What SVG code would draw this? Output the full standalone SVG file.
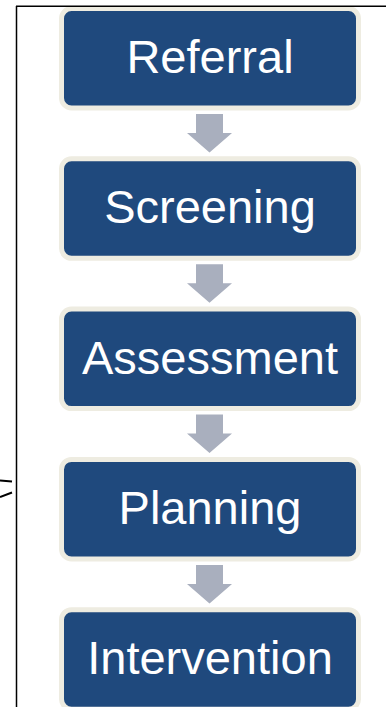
<svg xmlns="http://www.w3.org/2000/svg" width="386" height="707" viewBox="0 0 386 707">
  <style>
    .box { fill: #1F497D; stroke: #EEECE1; stroke-width: 5; }
    .label { fill: #FFFFFF; font-family: "Liberation Sans", Arial, sans-serif; font-size: 47px; text-anchor: middle; }
    .arrow { fill: #A9AFBE; }
    .frame { fill: none; stroke: #000000; stroke-width: 1.5; }
    .mark { fill: none; stroke: #000000; stroke-width: 2; }
  </style>
  <defs>
    <path id="down" d="M196 0 H223 V19 H232 L209.5 38.5 L187 19 H196 Z"/>
  </defs>
  <rect width="386" height="707" fill="#FFFFFF"/>

  <g id="connectors">
    <use href="#down" class="arrow" transform="translate(0,114)"/>
    <use href="#down" class="arrow" transform="translate(0,264.3)"/>
    <use href="#down" class="arrow" transform="translate(0,414.6)"/>
    <use href="#down" class="arrow" transform="translate(0,564.9)"/>
  </g>

  <g id="referral">
    <rect class="box" x="61.5" y="8.5" width="297" height="99.5" rx="10"/>
    <text class="label" x="210" y="73">Referral</text>
  </g>
  <g id="screening">
    <rect class="box" x="61.5" y="158.8" width="297" height="99.5" rx="10"/>
    <text class="label" x="210" y="223.3">Screening</text>
  </g>
  <g id="assessment">
    <rect class="box" x="61.5" y="309.1" width="297" height="99.5" rx="10"/>
    <text class="label" x="210" y="373.6">Assessment</text>
  </g>
  <g id="planning">
    <rect class="box" x="61.5" y="459.4" width="297" height="99.5" rx="10"/>
    <text class="label" x="210" y="523.9">Planning</text>
  </g>
  <g id="intervention">
    <rect class="box" x="61.5" y="609.7" width="297" height="99.5" rx="10"/>
    <text class="label" x="210" y="674.2">Intervention</text>
  </g>

  <!-- page frame and the small mark at the left edge -->
  <g id="frame">
    <path class="frame" d="M16 6.2 H386 M16.5 6 V707"/>
    <path class="mark" d="M0 480.5 L12 481.5 M0 497 L12 492.5"/>
  </g>
</svg>
